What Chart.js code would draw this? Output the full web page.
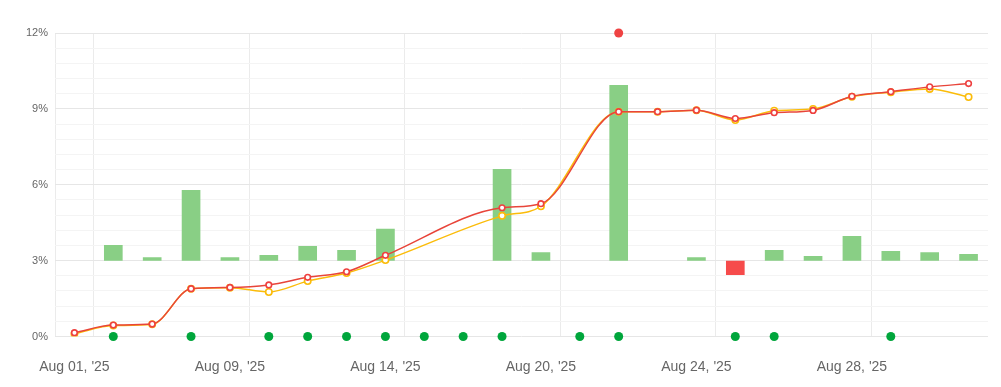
<!DOCTYPE html>
<html>
<head>
<meta charset="utf-8">
<script src="https://cdn.jsdelivr.net/npm/chart.js@4/dist/chart.umd.min.js"></script>
<style>
  html, body { margin: 0; padding: 0; background: #fff; }
  #wrap { width: 1001px; height: 387px; }
</style>
</head>
<body>
<div id="wrap"><canvas id="chart"></canvas></div>
<script>
const labels = [
  "Aug 01, '25", "Aug 04, '25", "Aug 05, '25", "Aug 07, '25",
  "Aug 09, '25", "Aug 11, '25", "Aug 12, '25", "Aug 13, '25",
  "Aug 14, '25", "Aug 15, '25", "Aug 17, '25", "Aug 18, '25",
  "Aug 20, '25", "Aug 21, '25", "Aug 22, '25", "Aug 23, '25",
  "Aug 24, '25", "Aug 25, '25", "Aug 26, '25", "Aug 27, '25",
  "Aug 28, '25", "Aug 29, '25", "Aug 30, '25", "Aug 31, '25"
];

// cumulative return, %
const redLine = [0.15, 0.45, 0.49, 1.89, 1.94, 2.04, 2.34, 2.56, 3.21, null, null, 5.09,
  5.25, null, 8.89, 8.89, 8.95, 8.62, 8.85, 8.94, 9.5, 9.68, 9.87, 10.0];
const yellowLine = [0.11, 0.43, 0.48, 1.89, 1.93, 1.76, 2.19, 2.51, 3.02, null, null, 4.77,
  5.15, null, 8.89, 8.89, 8.95, 8.56, 8.93, 9.0, 9.48, 9.66, 9.79, 9.47];

// daily change bars (drawn around the 3% line)
const dailyBars = [null, 0.62, 0.13, 2.79, 0.13, 0.22, 0.58, 0.42, 1.26, null, null, 3.62,
  0.33, null, 6.94, null, 0.13, -0.57, 0.42, 0.18, 0.97, 0.38, 0.33, 0.26];

// event markers
const greenDots = [null, 0, null, 0, null, 0, 0, 0, 0, 0, 0, 0,
  null, 0, 0, null, null, 0, 0, null, null, 0, null, null];
const redDots = [null, null, null, null, null, null, null, null, null, null, null, null,
  null, null, 12, null, null, null, null, null, null, null, null, null];

const yTicks = [0, 3, 6, 9, 12];

const ctx = document.getElementById("chart");

new Chart(ctx, {
  data: {
    labels,
    datasets: [
      {
        type: "line", data: greenDots, order: 0, showLine: false,
        pointRadius: 4.5, pointHoverRadius: 4.5,
        backgroundColor: "#00a63c", borderColor: "#00a63c", borderWidth: 0,
        clip: false,
      },
      {
        type: "line", data: redDots, order: 0, showLine: false,
        pointRadius: 4.5, pointHoverRadius: 4.5,
        backgroundColor: "#ef4343", borderColor: "#ef4343", borderWidth: 0,
        clip: false,
      },
      {
        type: "line", data: redLine, order: 1, spanGaps: true,
        borderColor: "#e8453a", borderWidth: 1.5,
        cubicInterpolationMode: "monotone",
        pointRadius: 2.8, pointBorderWidth: 1.6,
        pointBackgroundColor: "#fff", pointBorderColor: "#ee4040",
      },
      {
        type: "line", data: yellowLine, order: 2, spanGaps: true,
        borderColor: "#fbbc0a", borderWidth: 1.5,
        cubicInterpolationMode: "monotone",
        pointRadius: 3.2, pointBorderWidth: 1.6,
        pointBackgroundColor: "#fff", pointBorderColor: "#fbbc0a",
      },
      {
        type: "bar", data: dailyBars, order: 3, yAxisID: "y2",
        backgroundColor: (c) => (c.raw < 0 ? "#f64b4b" : "#89cf85"),
        barPercentage: 0.48, categoryPercentage: 1,
      },
    ],
  },
  options: {
    responsive: true,
    maintainAspectRatio: false,
    animation: false,
    layout: { padding: { top: 33, right: 13, left: 0, bottom: 0 } },
    plugins: { legend: { display: false }, tooltip: { enabled: false } },
    scales: {
      x: {
        offset: true,
        border: { display: false },
        grid: {
          offset: true,
          drawTicks: false,
          color: (c) => {
            const i = c.index;
            if (i === 0 || i === labels.length || i % 4 === 1) return "#ebebeb";
            return "rgba(0,0,0,0)";
          },
        },
        ticks: {
          autoSkip: false, maxRotation: 0, padding: 22,
          color: "#666", font: { family: "Liberation Sans, Arial", size: 14 },
          callback: (v, i) => (i % 4 === 0 ? labels[i] : ""),
        },
        afterFit: (s) => { s.height = 50.5; },
      },
      y: {
        min: 0, max: 12,
        border: { display: false },
        grid: {
          drawTicks: false,
          color: (c) => {
            const v = Math.round(c.tick.value * 10);
            return v % 30 === 0 ? "#e6e6e6" : "#f4f4f4";
          },
        },
        ticks: {
          stepSize: 0.6, autoSkip: false, padding: 7,
          color: "#666", font: { family: "Liberation Sans, Arial", size: 11 },
          callback: (v) => {
            const r = Math.round(v * 10) / 10;
            return yTicks.includes(r) ? r + "%" : "";
          },
        },
        afterFit: (s) => { s.width = 55; },
      },
      y2: { display: false, min: -3, max: 9 },
    },
  },
});
</script>
</body>
</html>
